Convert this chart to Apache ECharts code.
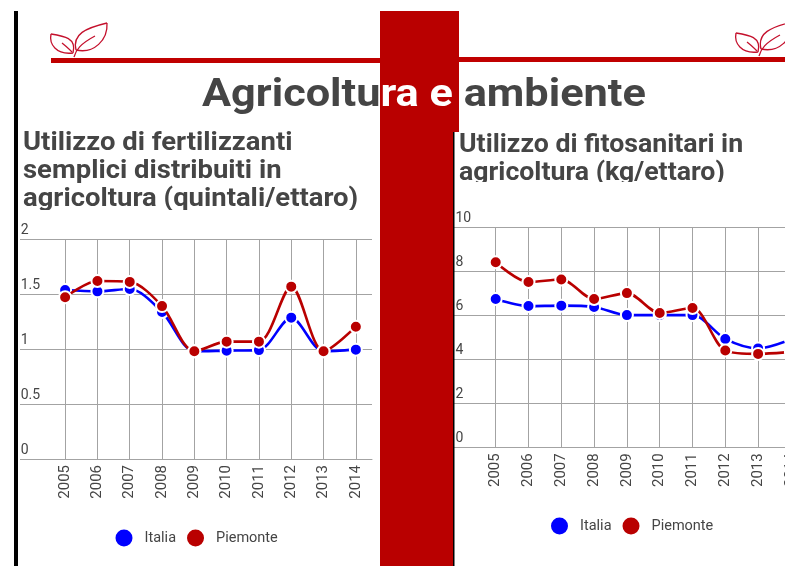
<!DOCTYPE html>
<html><head><meta charset="utf-8">
<style>html,body{margin:0;padding:0;background:#fff}#c{width:785px;height:566px}</style>
<script src="https://cdn.jsdelivr.net/npm/echarts@6/dist/echarts.min.js"></script>
</head><body><div id="c"></div>
<script>
const years = ['2005','2006','2007','2008','2009','2010','2011','2012','2013','2014'];
const fertItalia = [1.536,1.524,1.545,1.336,0.98,0.985,0.99,1.285,0.98,0.994];
const fertPiemonte = [1.47,1.618,1.61,1.39,0.98,1.067,1.067,1.567,0.98,1.203];
const fitoItalia = [6.73,6.41,6.43,6.37,6.0,6.0,6.0,4.92,4.49,4.9];
const fitoPiemonte = [8.4,7.5,7.62,6.73,7.0,6.1,6.32,4.39,4.24,4.33];
const BLUE='#0000ff', RED='#b90000', INK='#454545', GRID='#a3a3a3', FONT='Roboto';
const cats=['',...years];
function xa(i){return {type:'category',gridIndex:i,data:cats,boundaryGap:true,
  axisLine:{show:true,lineStyle:{color:GRID}},axisTick:{show:false},
  axisLabel:{rotate:90,fontFamily:FONT,fontSize:15,color:INK,margin:6},
  splitLine:{show:true,alignWithLabel:true,interval:(idx,v)=>v!=='',lineStyle:{color:GRID,width:1}}};}
function ya(i,max,interval){return {type:'value',gridIndex:i,min:0,max,interval,
  axisLine:{show:false},axisTick:{show:false},
  axisLabel:{inside:true,margin:i?9:4,fontFamily:FONT,fontSize:14,color:INK,verticalAlign:'bottom',lineHeight:18},
  splitLine:{show:true,lineStyle:{color:GRID,width:1}}};}
function ser(name,vals,color,i,z){return {name,type:'line',xAxisIndex:i,yAxisIndex:i,data:[null,...vals],smooth:0.3,
  clip:false,z,symbol:'circle',symbolSize:12,showSymbol:true,
  lineStyle:{color,width:2.6},itemStyle:{color,borderColor:'#fff',borderWidth:2}};}
function lg(left,top,gap){return {show:true,left,top,orient:'horizontal',selectedMode:false,icon:'circle',itemWidth:19,itemHeight:19,itemGap:gap,
  data:['Italia','Piemonte'],textStyle:{fontFamily:FONT,fontSize:14.5,color:INK,padding:[0,0,0,6]}};}
function rect(x,y,w,h,fill,z){return {type:'rect',shape:{x,y,width:w,height:h},style:{fill},z,silent:true};}
function curve(dx,dy,p){return {type:'bezierCurve',x:dx,y:dy,shape:{x1:p[0],y1:p[1],cpx1:p[2],cpy1:p[3],cpx2:p[4],cpy2:p[5],x2:p[6],y2:p[7]},
  style:{fill:'none',stroke:'#c4102c',lineWidth:1.3},z:20,silent:true};}
function leaf(dx,dy){return [
  [76,50,72,34,86,28,107,23],[107,23,108,40,94,54,76,50],
  [73,53,56,55,49,44,51,34],[51,34,64,36,77,38,73,53],
  [74,57,76,50,80,44,95,36],[72,52,69,49,66,46,62,43]
].map(p=>curve(dx,dy,p));}
function label(x,y,text,scaleX,size){return {type:'text',x,y,scaleX,z:30,silent:true,
  style:{text,fontFamily:FONT,fontWeight:700,fontSize:size,lineHeight:28,fill:INK}};}
const chart=echarts.init(document.getElementById('c'),null,{renderer:'canvas'});
chart.setOption({
  animation:false,backgroundColor:'#fff',
  grid:[{left:16.67,width:355.33,top:239,height:220,outerBoundsMode:'none'},
        {left:446.5,width:360.8,top:227,height:220.3,outerBoundsMode:'none'}],
  xAxis:[xa(0),xa(1)],
  yAxis:[ya(0,2,0.5),ya(1,10,2)],
  legend:[lg(108.5,522.5,9),lg(544,510.5,9)],
  series:[ser('Italia',fertItalia,BLUE,0,3),ser('Piemonte',fertPiemonte,RED,0,4),
          ser('Italia',fitoItalia,BLUE,1,3),ser('Piemonte',fitoPiemonte,RED,1,4)],
  graphic:{elements:[
    rect(0,0,785,11,'#fff',60),
    rect(18,225,2,300,'#fff',50),
    rect(20,210,358,8,'#fff',50),
    rect(455,182,330,20,'#fff',50),
    rect(14,11,4,555,'#000',100),
    rect(380,11,79,121,RED,100),
    rect(380,132,73,434,RED,100),
    rect(453,132,1.5,434,'#000',100),
    rect(51,58,329,5,'#c00000',100),
    rect(459,57,326,5,'#c00000',100),
    ...leaf(0,0),...leaf(685,-1),
    {type:'text',x:202,y:77,scaleX:1.11,z:120,silent:true,style:{
      text:'{a|Agricoltu}{b|ra e}{a| ambiente}',
      rich:{a:{fontFamily:FONT,fontWeight:700,fontSize:39,fill:INK,color:INK},b:{fontFamily:FONT,fontWeight:700,fontSize:39,fill:'#fff',color:'#fff'}}}},
    label(23,129.5,'Utilizzo di fertilizzanti\nsemplici distribuiti in\nagricoltura (quintali/ettaro)',1.098,25),
    label(459,132,'Utilizzo di fitosanitari in\nagricoltura (kg/ettaro)',1.068,25)
  ]}
});
</script></body></html>
